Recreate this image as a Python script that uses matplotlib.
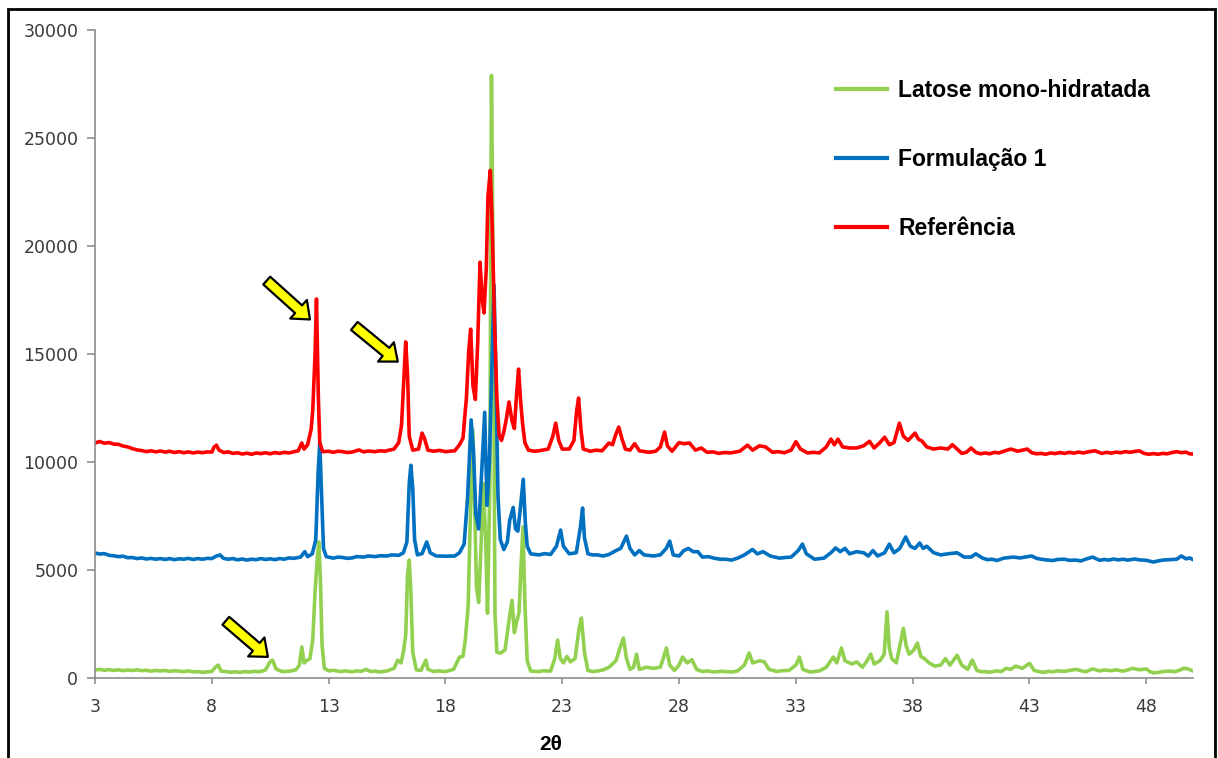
import matplotlib
matplotlib.use("Agg")
import matplotlib.pyplot as plt
from matplotlib.patches import Rectangle

# XRD patterns, 2-theta vs counts (offset traces)
lactose = [
    (3.0, 370), (3.2, 400), (3.4, 360), (3.6, 390), (3.8, 350), (4.0, 380), (4.2, 340),
    (4.4, 370), (4.6, 350), (4.8, 380), (5.0, 340), (5.2, 360), (5.4, 320), (5.6, 350),
    (5.8, 330), (6.0, 350), (6.2, 310), (6.4, 340), (6.6, 320), (6.8, 300), (7.0, 330),
    (7.2, 280), (7.4, 300), (7.6, 260), (7.8, 290), (8.0, 300), (8.15, 500), (8.27, 600),
    (8.4, 320), (8.6, 300), (8.8, 270), (9.0, 290), (9.2, 260), (9.4, 300), (9.6, 280),
    (9.8, 310), (10.0, 290), (10.2, 330), (10.3, 380), (10.5, 760), (10.6, 830),
    (10.75, 420), (11.0, 300), (11.3, 310), (11.6, 380), (11.75, 600), (11.85, 1440),
    (11.95, 700), (12.05, 800), (12.2, 900), (12.32, 1760), (12.42, 4000), (12.52, 5600),
    (12.58, 6300), (12.65, 4500), (12.72, 1500), (12.82, 450), (13.0, 330), (13.2, 360),
    (13.5, 300), (13.7, 330), (14.0, 290), (14.2, 330), (14.4, 310), (14.6, 400), (14.8, 300),
    (15.0, 320), (15.2, 280), (15.5, 330), (15.8, 450),
    (15.96, 830), (16.1, 700), (16.2, 1200), (16.3, 2000), (16.38, 4800), (16.45, 5460),
    (16.52, 4000), (16.6, 1200), (16.75, 380), (16.95, 350), (17.1, 700), (17.16, 830),
    (17.25, 400), (17.5, 300), (17.7, 330), (18.0, 300), (18.35, 400), (18.6, 970), (18.75, 1000),
    (18.85, 1760), (18.97, 3290), (19.08, 8000), (19.17, 11500), (19.25, 8000), (19.33, 4200),
    (19.42, 3500), (19.52, 6000), (19.62, 9000), (19.72, 6500), (19.8, 3000), (19.9, 9000),
    (19.97, 27900), (20.05, 18000), (20.12, 3000), (20.2, 1200), (20.35, 1150), (20.55, 1300),
    (20.7, 2500), (20.85, 3600), (20.95, 2100), (21.05, 2600), (21.15, 3050), (21.25, 5500),
    (21.32, 7000), (21.4, 3500), (21.5, 800), (21.65, 320), (22.0, 300), (22.2, 340),
    (22.5, 320), (22.68, 900), (22.8, 1760), (22.92, 900), (23.05, 700), (23.2, 1000),
    (23.35, 750), (23.55, 900), (23.72, 2300), (23.82, 2780), (23.95, 1200), (24.1, 350),
    (24.3, 300), (24.5, 320), (24.75, 380), (25.0, 500), (25.3, 800), (25.5, 1500), (25.62, 1850),
    (25.75, 900), (25.9, 400),
    (26.05, 500), (26.18, 1100), (26.3, 400), (26.6, 500), (26.9, 450), (27.2, 500),
    (27.35, 1000), (27.46, 1390), (27.6, 600), (27.8, 350), (28.0, 600), (28.15, 970),
    (28.35, 700), (28.55, 850), (28.75, 400), (29.0, 300), (29.2, 330), (29.5, 280),
    (29.8, 310), (30.0, 300), (30.3, 280),
    (30.5, 330), (30.8, 600), (31.0, 1160), (31.15, 700), (31.45, 800), (31.65, 750),
    (31.85, 400), (32.2, 300), (32.4, 340), (32.7, 350), (33.0, 600), (33.15, 970), (33.3, 400),
    (33.6, 280), (34.0, 330), (34.3, 500), (34.6, 970), (34.75, 700), (34.95, 1390),
    (35.1, 800), (35.4, 650), (35.6, 750), (35.85, 500), (36.05, 800), (36.2, 1110),
    (36.35, 650), (36.6, 800), (36.78, 1100), (36.9, 3060), (37.0, 1400), (37.1, 900),
    (37.3, 700), (37.45, 1500), (37.6, 2300), (37.72, 1500), (37.85, 1100), (38.05, 1300),
    (38.2, 1620), (38.35, 1000), (38.5, 900), (38.7, 700), (38.95, 550), (39.2, 600),
    (39.4, 900), (39.6, 600), (39.9, 1060), (40.1, 600), (40.35, 400), (40.55, 830),
    (40.75, 350), (40.95, 290), (41.1, 300), (41.3, 270), (41.6, 330), (41.8, 300),
    (42.0, 450), (42.2, 400), (42.4, 550), (42.7, 450), (43.0, 680), (43.2, 350), (43.4, 300),
    (43.6, 260), (43.8, 310), (44.0, 290), (44.2, 330), (44.5, 310), (44.7, 350), (45.0, 400),
    (45.2, 340), (45.4, 290), (45.7, 420), (46.0, 330), (46.2, 370), (46.5, 340), (46.7, 380),
    (47.0, 320), (47.2, 370), (47.4, 450), (47.7, 380), (48.0, 420), (48.15, 300),
    (48.3, 240), (48.5, 260), (48.7, 300), (49.0, 320), (49.2, 290), (49.4, 350),
    (49.6, 450), (49.8, 420), (50.0, 320),
]

formulacao1 = [
    (3.0, 5790), (3.2, 5740), (3.4, 5760), (3.6, 5680), (3.8, 5660), (4.0, 5620), (4.2, 5640),
    (4.4, 5570), (4.6, 5580), (4.8, 5530), (5.0, 5560), (5.2, 5510), (5.4, 5540), (5.6, 5500),
    (5.8, 5530), (6.0, 5490), (6.2, 5530), (6.4, 5480), (6.6, 5520), (6.8, 5500), (7.0, 5540),
    (7.2, 5490), (7.4, 5530), (7.6, 5500), (7.8, 5540), (8.0, 5530), (8.2, 5650), (8.35, 5700),
    (8.5, 5540), (8.7, 5500), (8.9, 5530), (9.1, 5470), (9.3, 5510), (9.5, 5460), (9.7, 5500),
    (9.9, 5480), (10.1, 5530), (10.3, 5490), (10.5, 5520), (10.7, 5480), (10.9, 5530),
    (11.1, 5500), (11.3, 5560), (11.5, 5540), (11.8, 5600),
    (11.98, 5850), (12.1, 5620), (12.3, 5750), (12.45, 6400),
    (12.55, 9500), (12.62, 10900), (12.7, 8500), (12.78, 6000), (12.9, 5620), (13.2, 5550),
    (13.4, 5600), (13.6, 5580), (13.8, 5540), (14.0, 5560), (14.2, 5620), (14.5, 5600),
    (14.7, 5650), (15.0, 5620), (15.2, 5660), (15.5, 5650), (15.7, 5700), (16.0, 5680),
    (16.2, 5800), (16.35, 6300), (16.45, 9000), (16.52, 9850), (16.6, 8800), (16.68, 6400),
    (16.8, 5700), (17.0, 5760), (17.2, 6300), (17.35, 5800), (17.6, 5650), (18.0, 5640),
    (18.4, 5650), (18.6, 5800), (18.8, 6200), (18.95, 8400), (19.1, 11950), (19.2, 10500),
    (19.3, 7600), (19.42, 6900), (19.55, 9500), (19.68, 12300), (19.78, 8000), (19.88, 9950),
    (20.0, 15000), (20.08, 18200), (20.16, 14000), (20.25, 8400), (20.35, 6400), (20.5, 5950),
    (20.65, 6300), (20.75, 7300), (20.9, 7900), (21.0, 6900), (21.1, 6800), (21.22, 8000),
    (21.33, 9200), (21.42, 7200), (21.5, 6100), (21.65, 5750), (22.0, 5700), (22.25, 5760),
    (22.5, 5720), (22.75, 6100), (22.93, 6850), (23.05, 6100), (23.3, 5750), (23.6, 5800),
    (23.78, 7000), (23.87, 7870), (23.95, 6500), (24.1, 5750), (24.3, 5700), (24.5, 5700),
    (24.75, 5650), (25.0, 5720), (25.3, 5900),
    (25.5, 6000), (25.75, 6570), (25.9, 6000), (26.1, 5700), (26.3, 5900), (26.5, 5700),
    (26.9, 5650), (27.2, 5700), (27.45, 6000), (27.6, 6340), (27.75, 5700), (28.0, 5650),
    (28.2, 5900), (28.4, 6000), (28.6, 5850), (28.8, 5850), (29.0, 5600), (29.25, 5620),
    (29.5, 5550), (29.75, 5500), (30.0, 5500), (30.25, 5460),
    (30.5, 5550), (30.8, 5700), (31.14, 5950), (31.35, 5750), (31.6, 5850),
    (31.9, 5650), (32.1, 5600), (32.3, 5550), (32.55, 5580), (32.8, 5600), (33.1, 5900),
    (33.28, 6200), (33.45, 5750),
    (33.8, 5500), (34.2, 5550), (34.5, 5800), (34.7, 6020), (34.9, 5850), (35.1, 6000),
    (35.3, 5750), (35.6, 5850), (35.9, 5800), (36.1, 5650), (36.3, 5900), (36.5, 5650),
    (36.8, 5800), (37.0, 6200), (37.2, 5800), (37.45, 6000), (37.7, 6530), (37.9, 6100),
    (38.1, 6000), (38.3, 6250), (38.45, 6000), (38.6, 6100), (38.9, 5800), (39.2, 5700),
    (39.5, 5750), (39.9, 5800), (40.2, 5600), (40.5, 5600), (40.7, 5750),
    (41.0, 5550), (41.2, 5480), (41.4, 5500), (41.6, 5440), (41.9, 5550), (42.3, 5600),
    (42.6, 5560), (42.8, 5600), (43.1, 5650), (43.3, 5540), (43.5, 5500), (43.7, 5470),
    (44.0, 5440), (44.2, 5490), (44.5, 5500), (44.7, 5450), (45.0, 5460), (45.2, 5420),
    (45.4, 5500), (45.7, 5600), (46.0, 5450), (46.2, 5490), (46.4, 5460), (46.6, 5510),
    (46.8, 5470), (47.0, 5500), (47.2, 5460), (47.5, 5510), (47.7, 5470), (48.0, 5450),
    (48.3, 5370), (48.5, 5420), (48.7, 5460), (49.0, 5480), (49.3, 5500), (49.5, 5650),
    (49.7, 5520), (49.85, 5560), (50.0, 5480),
]

referencia = [
    (3.0, 10880), (3.2, 10950), (3.4, 10870), (3.6, 10900), (3.8, 10830), (4.0, 10820),
    (4.2, 10740), (4.4, 10700), (4.6, 10620), (4.8, 10560), (5.0, 10530), (5.2, 10480),
    (5.4, 10520), (5.6, 10470), (5.8, 10510), (6.0, 10460), (6.2, 10500), (6.4, 10440),
    (6.6, 10480), (6.8, 10430), (7.0, 10470), (7.2, 10420), (7.4, 10460), (7.6, 10430),
    (7.8, 10470), (8.0, 10460), (8.1, 10700), (8.2, 10780), (8.3, 10560), (8.5, 10440),
    (8.7, 10470), (8.9, 10400), (9.1, 10430), (9.3, 10370), (9.5, 10410), (9.7, 10360),
    (9.9, 10420), (10.1, 10390), (10.3, 10430), (10.5, 10380), (10.7, 10440), (10.9, 10400),
    (11.1, 10450), (11.3, 10420), (11.5, 10470), (11.7, 10520),
    (11.85, 10880), (11.95, 10600), (12.1, 10800), (12.25, 11500), (12.32, 12400),
    (12.42, 15000), (12.48, 17550), (12.56, 13000), (12.62, 10900), (12.75, 10480),
    (13.0, 10500), (13.2, 10450), (13.4, 10500), (13.6, 10480), (13.8, 10440), (14.0, 10460),
    (14.3, 10560), (14.5, 10470), (14.7, 10510), (15.0, 10480), (15.2, 10520),
    (15.4, 10500), (15.8, 10600), (16.0, 10900), (16.12, 11700), (16.22, 13800),
    (16.3, 15560), (16.38, 14000), (16.45, 11200), (16.6, 10550), (16.85, 10600),
    (17.0, 11340), (17.1, 11100), (17.25, 10550), (17.5, 10500), (17.75, 10540),
    (18.0, 10480), (18.4, 10520),
    (18.6, 10800), (18.75, 11100), (18.9, 13000), (19.0, 15200), (19.08, 16150),
    (19.18, 13500), (19.28, 12900), (19.38, 15500), (19.48, 19250), (19.58, 17500),
    (19.65, 16900), (19.75, 19000), (19.82, 22300), (19.92, 23500), (20.0, 21000),
    (20.1, 16500), (20.2, 13000), (20.3, 11200), (20.4, 11000), (20.5, 11400), (20.6, 11950),
    (20.72, 12780), (20.85, 11900), (20.95, 11550), (21.05, 13200), (21.13, 14300),
    (21.22, 12800), (21.3, 11800), (21.4, 10900), (21.55, 10550), (21.8, 10500), (22.0, 10520),
    (22.4, 10600), (22.6, 11200), (22.72, 11800), (22.85, 11000), (23.0, 10600),
    (23.3, 10600), (23.5, 11000), (23.62, 12400), (23.7, 12960), (23.8, 11500), (23.9, 10600),
    (24.2, 10500), (24.45, 10550), (24.7, 10520), (25.0, 10880), (25.15, 10800), (25.3, 11300),
    (25.42, 11620), (25.55, 11100), (25.7, 10600), (25.9, 10550), (26.1, 10850),
    (26.3, 10520), (26.7, 10450), (27.0, 10500), (27.2, 10700), (27.38, 11390),
    (27.5, 10750), (27.7, 10500), (28.0, 10900), (28.2, 10850), (28.45, 10880),
    (28.7, 10550), (28.95, 10650), (29.2, 10450), (29.45, 10470), (29.7, 10400),
    (29.95, 10440), (30.2, 10420),
    (30.6, 10500), (30.93, 10780), (31.15, 10550), (31.44, 10750), (31.7, 10700),
    (32.0, 10450), (32.25, 10480), (32.5, 10430), (32.8, 10550), (33.0, 10940), (33.2, 10600),
    (33.5, 10420), (33.75, 10450),
    (34.0, 10420), (34.3, 10700), (34.5, 11060), (34.65, 10800), (34.8, 11060), (35.0, 10700),
    (35.3, 10650), (35.6, 10650), (35.9, 10750), (36.15, 10960), (36.35, 10650),
    (36.6, 10900), (36.8, 11150), (37.0, 10800), (37.2, 10900), (37.43, 11800),
    (37.6, 11200), (37.8, 11000), (38.1, 11340), (38.25, 11050), (38.4, 10970),
    (38.6, 10700), (38.9, 10600), (39.2, 10650), (39.5, 10600), (39.7, 10800), (39.9, 10600),
    (40.1, 10400), (40.3, 10450), (40.5, 10650), (40.7, 10450), (40.9, 10380), (41.1, 10420),
    (41.3, 10380), (41.5, 10450), (41.7, 10420), (41.9, 10500), (42.2, 10600), (42.5, 10500),
    (42.9, 10600), (43.1, 10430), (43.3, 10380), (43.5, 10400), (43.7, 10360), (43.9, 10420),
    (44.1, 10390), (44.3, 10440), (44.5, 10400), (44.7, 10450), (44.9, 10410), (45.1, 10460),
    (45.3, 10420), (45.5, 10470), (45.8, 10520), (46.1, 10400), (46.3, 10450), (46.5, 10410),
    (46.7, 10460), (46.9, 10430), (47.1, 10480), (47.3, 10450), (47.5, 10490), (47.7, 10520),
    (47.9, 10400), (48.1, 10360), (48.3, 10390), (48.5, 10360), (48.7, 10400), (48.9, 10380),
    (49.1, 10440), (49.3, 10480), (49.5, 10430), (49.7, 10460), (49.85, 10380), (50.0, 10370),
]

series_names = ["Latose mono-hidratada", "Formulação 1", "Referência"]
series_colors = ["#92D050", "#0070C0", "#FF0000"]

# arrows marking the lactose reflections: (tail 2theta, tail counts, tip 2theta, tip counts)
arrows = [
    (10.35, 18400, 12.2, 16600),
    (14.1, 16300, 15.96, 14650),
    (8.6, 2650, 10.4, 980),
]

fig = plt.figure(figsize=(12.18, 7.58), dpi=100)
ax = fig.add_axes([0.078, 0.1055, 0.9015, 0.8549])

for data, name, color in zip([lactose, formulacao1, referencia], series_names, series_colors):
    xs = [p[0] for p in data]
    ys = [p[1] for p in data]
    ax.plot(xs, ys, color=color, lw=2.6, label=name)

for x0, y0, x1, y1 in arrows:
    ax.annotate("", xy=(x1, y1), xytext=(x0, y0),
                arrowprops=dict(arrowstyle="simple,head_length=11,head_width=18,tail_width=7.5",
                                mutation_scale=1, fc="#FFFF00", ec="black", lw=1.6,
                                shrinkA=0, shrinkB=0))

ax.set_xlim(3, 50)
ax.set_ylim(0, 30000)
ax.set_xticks(range(3, 49, 5))
ax.set_yticks(range(0, 30001, 5000))

for side in ["top", "right"]:
    ax.spines[side].set_visible(False)
for side in ["left", "bottom"]:
    ax.spines[side].set_color("#8C8C8C")
    ax.spines[side].set_linewidth(1.2)

ax.tick_params(axis="both", colors="#8C8C8C", labelcolor="#3A3A3A", labelsize=12.5,
               width=1.2, direction="out")
ax.tick_params(axis="y", length=6, pad=6)
ax.tick_params(axis="x", length=4.5, pad=10)

fig.text(551 / 1218, 1 - 745 / 758, "2θ", ha="center", va="center",
         fontsize=15, fontweight="bold", family=["Liberation Sans Narrow", "Liberation Sans"])

leg = fig.legend(loc="upper left", bbox_to_anchor=(836 / 1218, 1 - 79 / 758),
                 frameon=False, borderpad=0, borderaxespad=0, handlelength=2.23,
                 handletextpad=0.48, labelspacing=2.0,
                 prop=dict(family="Liberation Sans", weight="bold", size=16.5))
for line in leg.get_lines():
    line.set_linewidth(3)

fig.patches.append(Rectangle((8 / 1218, -0.02), 1207 / 1218, 1.008, transform=fig.transFigure,
                             fill=False, edgecolor="black", lw=2))

fig.savefig("out.png", dpi=100)
